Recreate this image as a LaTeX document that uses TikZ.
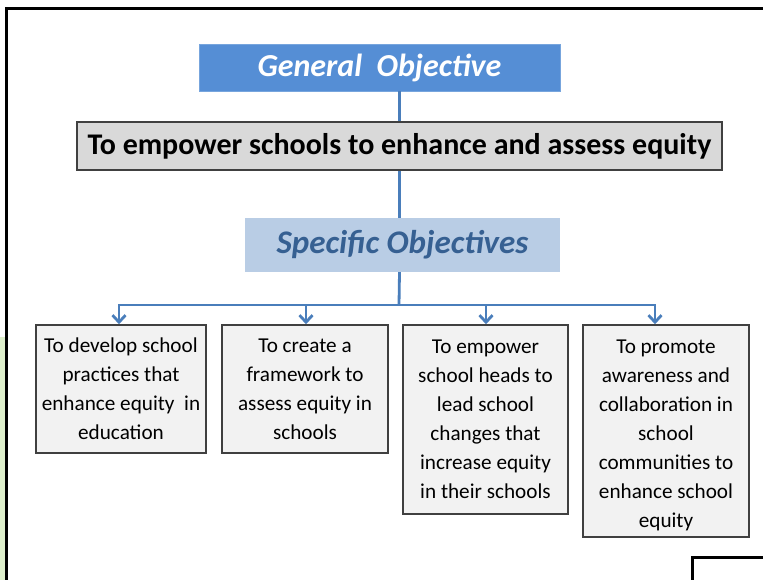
\documentclass[tikz,border=0pt]{standalone}
\usepackage{fontspec}
\setmainfont{Carlito}
\usetikzlibrary{arrows.meta,calc}
\definecolor{genblue}{RGB}{85,142,213}
\definecolor{specblue}{RGB}{185,205,229}
\definecolor{spectext}{RGB}{54,96,146}
\definecolor{linkblue}{RGB}{74,126,187}
\definecolor{maingray}{RGB}{217,217,217}
\definecolor{boxgray}{RGB}{242,242,242}
\definecolor{edgegray}{RGB}{64,64,64}
\definecolor{stripgreen}{RGB}{221,239,203}
\tikzset{
  genbox/.style={fill=genblue, draw=genblue!80!white, line width=0.8pt, inner sep=0pt,
    minimum width=361pt, minimum height=47pt, text=white,
    font={\fontsize{32}{38}\selectfont\bfseries\itshape}},
  mainbox/.style={fill=maingray, draw=edgegray, line width=1.5pt, inner sep=0pt,
    minimum width=645pt, minimum height=48pt, text=black,
    font={\fontsize{30}{36}\selectfont\bfseries}},
  specbox/.style={fill=specblue, draw=none, inner sep=0pt,
    minimum width=315pt, minimum height=54pt, text=spectext,
    font={\fontsize{33}{38}\selectfont\bfseries\itshape}},
  objbox/.style={fill=boxgray, draw=edgegray, line width=1.5pt, inner sep=0pt,
    align=center, text=black, font={\fontsize{21.2}{29}\selectfont}},
  conn/.style={draw=linkblue, line width=2.8pt},
  arr/.style={conn, -{Straight Barb[length=7pt,width=13pt,line width=2.8pt]}},
  framestyle/.style={draw=black, line width=3pt}
}
\begin{document}
\begin{tikzpicture}[x=1pt,y=-1pt]
\useasboundingbox (0,0) rectangle (763,580);
% background elements
\fill[stripgreen] (0,337) rectangle (5,580);
\draw[framestyle] (6.5,580) -- (6.5,9) -- (763,9);
\draw[framestyle] (692,580) -- (692,557) -- (763,557);
% title boxes
\node[genbox] (gen) at (379.5,67.5) {\raisebox{-2pt}{General\ \ Objective}};
\node[mainbox] (main) at (399.5,146) {\raisebox{-1pt}{To empower schools to enhance and assess equity}};
\node[specbox] (spec) at (402.5,245) {Specific Objectives};
% objective boxes
\node[objbox, minimum width=170pt, minimum height=128pt] (b1) at (121,389)
  {To develop school\\practices that\\enhance equity\ \ in\\education};
\node[objbox, minimum width=166pt, minimum height=128pt] (b2) at (305,389)
  {To create a\\framework to\\assess equity in\\schools};
\node[objbox, minimum width=165pt, minimum height=189pt] (b3) at (485.5,419.5)
  {To empower\\school heads to\\lead school\\changes that\\increase equity\\in their schools};
\node[objbox, minimum width=166pt, minimum height=212pt] (b4) at (666,431)
  {\rule{0pt}{23pt}To promote\\awareness and\\collaboration in\\school\\communities to\\enhance school\\equity};
% connectors
\coordinate (junc) at (399,305);
\draw[conn] (gen.south -| main.north) -- (main.north);
\draw[conn] (main.south) -- (main.south |- spec.north);
\draw[conn] (spec.south -| main.south) -- (junc);
\draw[arr] (junc) -| ([xshift=-2pt]b1.north);
\draw[arr] (junc) -| ([xshift=1pt]b2.north);
\draw[arr] (junc) -| ([xshift=0.5pt]b3.north);
\draw[arr] (junc) -| ([xshift=-11pt]b4.north);
\end{tikzpicture}
\end{document}
